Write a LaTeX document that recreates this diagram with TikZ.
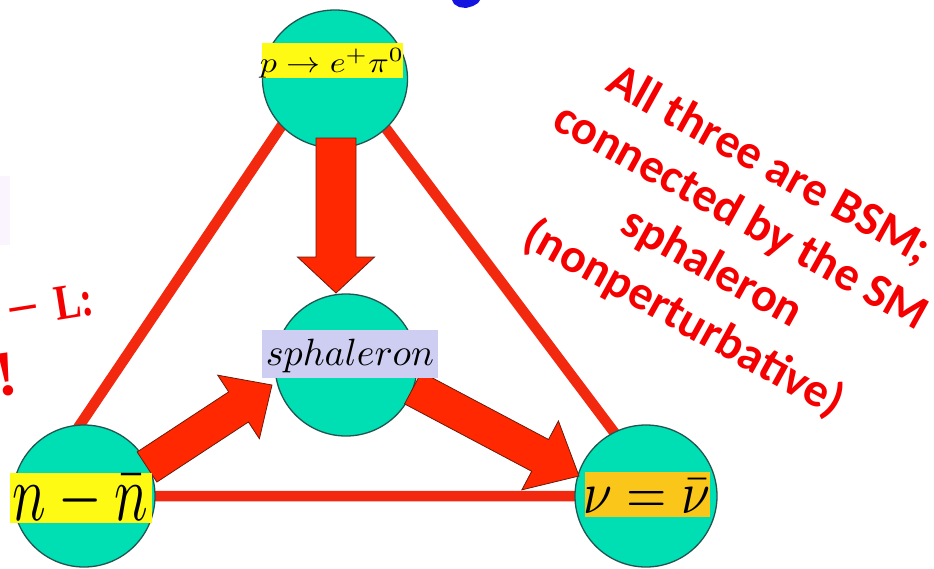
\documentclass[tikz,border=0pt]{standalone}
\usepackage{fontspec}
\usetikzlibrary{calc,shapes.geometric}
\newfontfamily\calib{Carlito}
\newfontfamily\tnr{Liberation Serif}
\definecolor{ballfill}{RGB}{0,222,180}
\definecolor{balledge}{RGB}{35,85,80}
\definecolor{bandY}{RGB}{255,250,20}
\definecolor{bandG}{RGB}{250,198,25}
\definecolor{bandL}{RGB}{206,206,242}
\definecolor{edgeRed}{RGB}{242,40,15}
\definecolor{arrRed}{RGB}{255,40,0}
\definecolor{arrEdge}{RGB}{110,25,10}
\definecolor{txtRed}{RGB}{245,0,0}
\definecolor{fragBlue}{RGB}{20,20,225}
\definecolor{smudge}{RGB}{249,244,253}
\tikzset{
  ball/.style={ellipse, draw=balledge, line width=1.3pt, fill=ballfill, inner sep=0pt,
               minimum width=142pt, minimum height=142pt},
  tri/.style={draw=edgeRed, line width=10.5pt, line join=round},
  blk/.style={fill=arrRed, draw=arrEdge, line width=0.8pt, line join=miter},
  redtxt/.style={text=txtRed, inner sep=0pt}
}
\newcommand\blockarr[5]{%
  \path ($(#2)!#5!(#1)$) coordinate (bj);
  \filldraw[blk] ($(#1)!#3!90:(#2)$) -- ($(bj)!#3!90:(#2)$) -- ($(bj)!#4!90:(#2)$)
    -- (#2) -- ($(bj)!#4!-90:(#2)$) -- ($(bj)!#3!-90:(#2)$) -- ($(#1)!#3!-90:(#2)$) -- cycle;}
\begin{document}
\begin{tikzpicture}[x=1pt,y=-1pt]
\useasboundingbox (0,0) rectangle (934,568);
\fill[white] (0,0) rectangle (934,568);
% fragments at the edges
\fill[smudge] (0,176) rectangle (10,245);
\fill[fragBlue] (452,0) -- (454,4) -- (459,7) -- (466,8) -- (473,6) -- (478,3) -- (480,0) -- cycle;
% triangle
\coordinate (tA) at (330,54);
\coordinate (tB) at (32,496);
\coordinate (tC) at (662,496);
\draw[tri] (tA) -- (tB) -- (tC) -- cycle;
% balls
\node[ball, minimum width=145pt, minimum height=138pt] (top) at (335,79) {};
\node[ball] (sph) at (346,365) {};
\node[ball] (nn) at (84,496) {};
\node[ball] (nu) at (646,496) {};
% block arrows
\coordinate (d1) at (336,138); \coordinate (d2) at (336,293);
\coordinate (l1) at (147,467); \coordinate (l2) at (272,385);
\coordinate (r1) at (413,388); \coordinate (r2) at (579,476);
\blockarr{d1}{d2}{20pt}{38.5pt}{36pt}
\blockarr{l1}{l2}{18pt}{38pt}{40pt}
\blockarr{r1}{r2}{18pt}{39pt}{44pt}
% bands
\fill[bandY] (262,43) rectangle (403,78);
\fill[bandL] (262,330) rectangle (438,378);
\fill[bandY] (10,473) rectangle (152,523);
\fill[bandG] (585,472) rectangle (710,517);
% labels
\node[anchor=base, inner sep=0pt] (ltop) at (332,72) {\scalebox{3.4}[2.9]{$p\to e^+\pi^0$}};
\node[anchor=base, inner sep=0pt] (lsph) at (350,365) {\scalebox{3.8}{$sphaleron$}};
\node[anchor=base, inner sep=0pt] (lnn) at (80,520) {\scalebox{5.6}[8]{$n-\bar n$}};
\node[anchor=base, inner sep=0pt] (lnu) at (647,513) {\scalebox{5.2}[6]{$\nu=\bar\nu$}};
% red texts
\node[redtxt, rotate=-29, align=center,
      font=\calib\bfseries\fontsize{48}{58.6}\selectfont] (note) at (726,243)
  {All three are BSM;\\connected by the SM\\sphaleron\\(nonperturbative)};
\node[redtxt, rotate=9, anchor=base east,
      font=\tnr\bfseries\fontsize{50}{60}\selectfont] (bl) at (96,314)
  {\scalebox{1.15}[1]{−}\hspace{16pt}\scalebox{0.78}[1]{L:}};
\node[redtxt, rotate=8, anchor=base,
      font=\tnr\bfseries\fontsize{64}{70}\selectfont] (ex) at (9,395) {!};
\end{tikzpicture}
\end{document}
